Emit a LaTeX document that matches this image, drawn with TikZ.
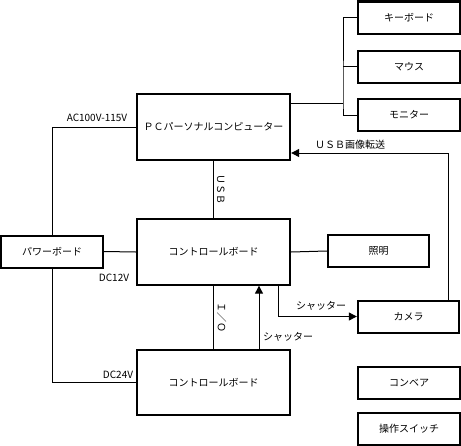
\documentclass[tikz,border=0pt]{standalone}
\usepackage{fontspec}
\setmainfont{Noto Sans CJK JP}
\usetikzlibrary{calc,arrows.meta}

\begin{document}
\begin{tikzpicture}[x=0.75pt,y=-0.75pt,
  every node/.style={font=\fontsize{7.5pt}{9pt}\selectfont},
  blk/.style={draw, line width=1.5pt, fill=white, minimum width=76pt, minimum height=24pt, inner sep=0pt},
  bigblk/.style={blk, minimum width=115pt, minimum height=49pt},
  wire/.style={line width=0.75pt},
  arr/.style={wire, -{Triangle[length=6pt,width=6pt]}}]
\useasboundingbox (0,0) rectangle (461,446);
% boxes
\node [bigblk] (pc) at (213.5,127) {ＰＣパーソナルコンピューター};
\node [bigblk] (ctrl) at (213.5,252) {コントロールボード};
\node [bigblk] (ctrlb) at (213.5,382.5) {コントロールボード};
\node [blk] (kbd) at (409,17.5) {キーボード};
\node [blk] (mouse) at (409,66.5) {マウス};
\node [blk] (mon) at (409,115) {モニター};
\node [blk] (power) at (52,251.5) {パワーボード};
\node [blk] (light) at (378.5,251) {照明};
\node [blk] (cam) at (408.5,316.5) {カメラ};
\node [blk] (conv) at (409,383) {コンベア};
\node [blk] (sw) at (409,428.5) {操作スイッチ};
% helper points
\coordinate (hub) at (343,103);
\coordinate (shut1) at (259,0);
\coordinate (shut2) at (278,0);
\coordinate (usbimg) at (448,153);
% PC and its devices
\draw [wire] (pc.east |- hub) -- (hub);
\draw [wire] (kbd.west) -| (hub) |- (mon.west);
\draw [wire] (mouse.west) -- (mouse.west -| hub);
% power
\draw [wire] (pc.west) -| (power.north);
\draw [wire] (power.south) |- (ctrlb.west);
\draw [wire] (power.east) -- (ctrl.west);
\node at (97,118) {AC100V-115V};
\node at (114,278) {DC12V};
\node at (118,375) {DC24V};
% signals
\draw [wire] (pc.south) -- node [rotate=-90, anchor=south, yshift=-1pt] {ＵＳＢ} (ctrl.north);
\draw [wire] (ctrl.south) -- node [rotate=-90, anchor=south, yshift=-1pt] {Ｉ／Ｏ} (ctrlb.north);
\draw [wire] (ctrl.east) -- (light.west);
\draw [arr] (ctrlb.north -| shut1) -- (ctrl.south -| shut1);
\node at (288,337) {シャッター};
\draw [arr] (ctrl.south -| shut2) |- (cam.west);
\node at (321,306) {シャッター};
\draw [arr] (cam.north -| usbimg) -- (usbimg) -- (pc.east |- usbimg);
\node at (350,145) {ＵＳＢ画像転送};
\end{tikzpicture}
\end{document}
